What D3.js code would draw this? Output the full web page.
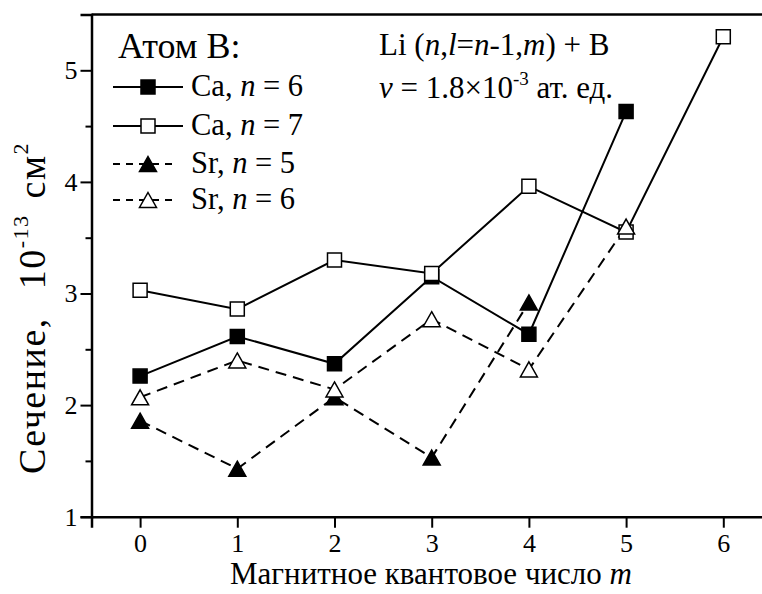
<!DOCTYPE html>
<html>
<head>
<meta charset="utf-8">
<script src="https://cdn.jsdelivr.net/npm/d3@7"></script>
<style>
  html, body { margin: 0; padding: 0; background: #fff; }
  svg { display: block; }
  text { font-family: "Liberation Serif", "DejaVu Serif", serif; fill: #000; }
</style>
</head>
<body>
<svg id="chart" width="762" height="594"></svg>
<script>
// Magnetic quantum number m
const mValues = [0, 1, 2, 3, 4, 5, 6];
const xTicks = [0, 1, 2, 3, 4, 5, 6];
const yTicks = [1, 2, 3, 4, 5];
const yMinorTicks = [1.5, 2.5, 3.5, 4.5];

// Cross sections, 10^-13 cm^2
const caN6 = [2.26, 2.615, 2.37, 3.15, 2.635, 4.63];
const caN7 = [3.03, 2.86, 3.30, 3.18, 3.96, 3.55, 5.30];
const srN5 = [1.86, 1.43, 2.07, 1.53, 2.92];
const srN6 = [2.07, 2.40, 2.14, 2.77, 2.32, 3.60];

const seriesNames = ["Ca", "Ca", "Sr", "Sr"];
const seriesN = [6, 7, 5, 6];

const series = [
  { values: caN6, marker: "square", filled: true, dashed: false },
  { values: caN7, marker: "square", filled: false, dashed: false },
  { values: srN5, marker: "triangle", filled: true, dashed: true },
  { values: srN6, marker: "triangle", filled: false, dashed: true }
];

const svg = d3.select("#chart");
const plotLeft = 91.5, plotTop = 14.5, plotBottom = 516.7;

const x = d3.scaleLinear().domain([-0.5, 6.5]).range([plotLeft, plotLeft + 7 * 97.2]);
const y = d3.scaleLinear().domain([1, 5.5]).range([plotBottom, plotTop]);

// Frame: top line and the two axes
svg.append("line")
  .attr("x1", plotLeft).attr("x2", 800).attr("y1", plotTop).attr("y2", plotTop)
  .attr("stroke", "#000").attr("stroke-width", 2.5);

const xAxis = svg.append("g")
  .attr("transform", `translate(0,${plotBottom})`)
  .call(d3.axisBottom(x).tickValues(xTicks).tickFormat(d3.format("d"))
    .tickSize(11).tickPadding(6));
xAxis.select(".domain").attr("stroke-width", 2.5);
xAxis.selectAll(".tick line").attr("stroke-width", 2);
xAxis.selectAll(".tick text")
  .style("font-family", "Liberation Serif").style("font-size", "26px");

const yAxis = svg.append("g")
  .attr("transform", `translate(${plotLeft},0)`)
  .call(d3.axisLeft(y).tickValues(yTicks).tickFormat(d3.format("d"))
    .tickSize(11).tickPadding(3));
yAxis.select(".domain").attr("stroke-width", 2.5);
yAxis.selectAll(".tick line").attr("stroke-width", 2);
yAxis.selectAll(".tick text")
  .style("font-family", "Liberation Serif").style("font-size", "26px");

svg.append("g")
  .attr("transform", `translate(${plotLeft},0)`)
  .call(d3.axisLeft(y).tickValues(yMinorTicks).tickFormat("").tickSize(6))
  .call(g => g.select(".domain").remove())
  .selectAll(".tick line").attr("stroke-width", 2);

// Markers
const sq = 14, tri = 17;
function markerPath(type) {
  if (type === "square") {
    const h = sq / 2;
    return `M${-h},${-h}H${h}V${h}H${-h}Z`;
  }
  const w = tri / 2, h = 15 / 2;
  return `M0,${-h}L${w},${h}L${-w},${h}Z`;
}

const line = d3.line().x((d, i) => x(mValues[i])).y(d => y(d));

const plot = svg.append("g");
series.forEach(s => {
  plot.append("path")
    .attr("d", line(s.values))
    .attr("fill", "none")
    .attr("stroke", "#000")
    .attr("stroke-width", 2)
    .attr("stroke-dasharray", s.dashed ? "11,7" : null);
});
series.forEach(s => {
  plot.selectAll(null)
    .data(s.values)
    .join("path")
    .attr("transform", (d, i) => `translate(${x(mValues[i])},${y(d)})`)
    .attr("d", markerPath(s.marker))
    .attr("fill", s.filled ? "#000" : "#fff")
    .attr("stroke", "#000")
    .attr("stroke-width", 1.5);
});

// Legend
const legend = svg.append("g");
legend.append("text")
  .attr("x", 118).attr("y", 58)
  .style("font-size", "36px")
  .text("Атом B:");

const rowY = [87, 126, 164, 200];
series.forEach((s, i) => {
  const g = legend.append("g").attr("transform", `translate(0,${rowY[i]})`);
  g.append("line")
    .attr("x1", 113).attr("x2", s.dashed ? 176 : 183)
    .attr("stroke", "#000").attr("stroke-width", 2)
    .attr("stroke-dasharray", s.dashed ? "7,6" : null);
  g.append("path")
    .attr("transform", "translate(148,0)")
    .attr("d", markerPath(s.marker))
    .attr("fill", s.filled ? "#000" : "#fff")
    .attr("stroke", "#000").attr("stroke-width", 1.5);
  const t = g.append("text").attr("x", 191).attr("y", 9).style("font-size", "30.5px");
  t.append("tspan").text(seriesNames[i] + ", ");
  t.append("tspan").style("font-style", "italic").text("n");
  t.append("tspan").text(" = " + seriesN[i]);
});

// Annotation
const ann1 = svg.append("text").attr("x", 379).attr("y", 55).style("font-size", "31px");
ann1.append("tspan").text("Li (");
ann1.append("tspan").style("font-style", "italic").text("n");
ann1.append("tspan").text(",");
ann1.append("tspan").style("font-style", "italic").text("l");
ann1.append("tspan").text("=");
ann1.append("tspan").style("font-style", "italic").text("n");
ann1.append("tspan").text("-1,");
ann1.append("tspan").style("font-style", "italic").text("m");
ann1.append("tspan").text(") + B");

const ann2 = svg.append("text").attr("x", 379).attr("y", 98).style("font-size", "31px");
ann2.append("tspan").style("font-style", "italic").text("v");
ann2.append("tspan").text(" = 1.8×10");
ann2.append("tspan").attr("dy", -13).style("font-size", "19px").text("-3");
ann2.append("tspan").attr("dy", 13).text(" ат. ед.");

// Axis titles
const xt = svg.append("text")
  .attr("x", 431).attr("y", 584)
  .attr("text-anchor", "middle")
  .style("font-size", "31px");
xt.append("tspan").text("Магнитное квантовое число ");
xt.append("tspan").style("font-style", "italic").text("m");

const yt = svg.append("text")
  .attr("transform", "translate(45,474) rotate(-90)")
  .attr("text-anchor", "start")
  .style("font-size", "38px")
  .style("letter-spacing", "1.5px");
yt.append("tspan").text("Сечение,");
yt.append("tspan").attr("dx", 28).text("10");
yt.append("tspan").attr("dy", -17).style("font-size", "22px").text("-13");
yt.append("tspan").attr("dy", 17).attr("dx", 16).text("см");
yt.append("tspan").attr("dy", -17).style("font-size", "22px").text("2");
</script>
</body>
</html>
